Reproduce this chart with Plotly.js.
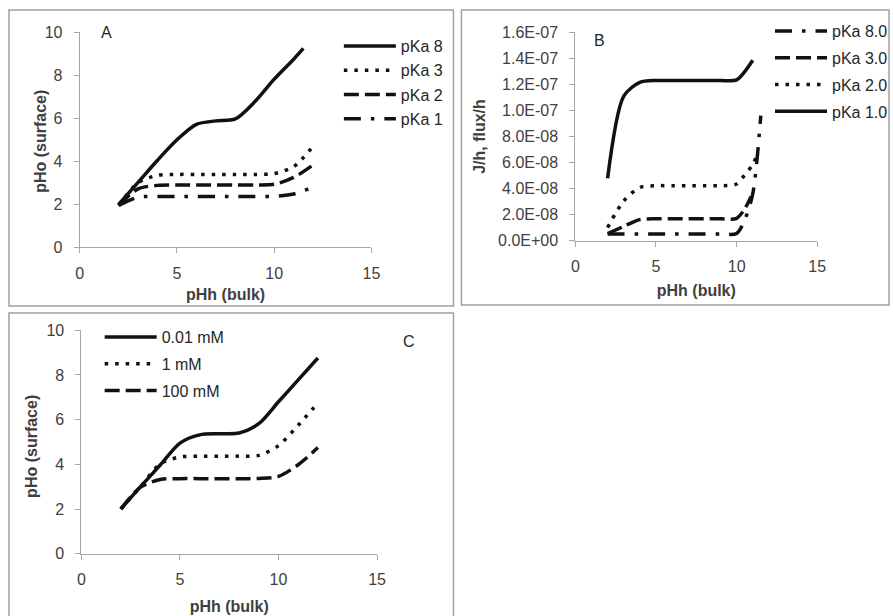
<!DOCTYPE html>
<html>
<head>
<meta charset="utf-8">
<script src="https://cdn.plot.ly/plotly-3.0.1.min.js"></script>
<style>
html,body{margin:0;padding:0;background:#fff;}
#chart{width:893px;height:616px;}
</style>
</head>
<body>
<div id="chart"></div>
<script>
// ---------- Panel A data ----------
const aNames = ["pKa 8", "pKa 3", "pKa 2", "pKa 1"];
const aX_pKa8 = [2, 3, 4, 5, 6, 7, 8, 9, 10, 11, 11.5];
const aY_pKa8 = [2.0, 3.02, 4.05, 5.0, 5.72, 5.88, 5.97, 6.77, 7.82, 8.75, 9.25];
const aX_pKa3 = [2, 3, 4, 5, 6, 7, 8, 9, 10, 11, 12];
const aY_pKa3 = [1.95, 3.0, 3.35, 3.39, 3.39, 3.39, 3.39, 3.39, 3.43, 3.75, 4.7];
const aX_pKa2 = [2, 3, 4, 5, 6, 7, 8, 9, 10, 11, 12];
const aY_pKa2 = [1.95, 2.72, 2.88, 2.9, 2.9, 2.9, 2.9, 2.9, 2.93, 3.25, 3.83];
const aX_pKa1 = [2, 3, 4, 5, 6, 7, 8, 9, 10, 11, 12];
const aY_pKa1 = [1.95, 2.33, 2.36, 2.36, 2.36, 2.36, 2.36, 2.36, 2.37, 2.48, 2.8];

// ---------- Panel B data ----------
const bNames = ["pKa 8.0", "pKa 3.0", "pKa 2.0", "pKa 1.0"];
const bX_pKa80 = [2, 3, 4, 5, 6, 7, 8, 9, 10, 10.5, 11, 11.5];
const bY_pKa80 = [5.2e-9, 5.2e-9, 5.2e-9, 5.2e-9, 5.2e-9, 5.2e-9, 5.2e-9, 5.2e-9, 5.6e-9, 1.6e-8, 3.6e-8, 9.6e-8];
const bX_pKa30 = [2, 3, 4, 5, 6, 7, 8, 9, 10, 10.5, 10.9];
const bY_pKa30 = [5.5e-9, 1.1e-8, 1.62e-8, 1.68e-8, 1.68e-8, 1.68e-8, 1.68e-8, 1.68e-8, 1.72e-8, 2.45e-8, 3.4e-8];
const bX_pKa20 = [2, 3, 4, 5, 6, 7, 8, 9, 10, 10.5, 11, 11.3];
const bY_pKa20 = [1.0e-8, 3.05e-8, 4.08e-8, 4.22e-8, 4.22e-8, 4.22e-8, 4.22e-8, 4.22e-8, 4.35e-8, 5.05e-8, 5.85e-8, 6.7e-8];
const bX_pKa10 = [2, 3, 4, 5, 6, 7, 8, 9, 10, 11];
const bY_pKa10 = [4.8e-8, 1.11e-7, 1.215e-7, 1.23e-7, 1.23e-7, 1.23e-7, 1.23e-7, 1.23e-7, 1.235e-7, 1.385e-7];
const bTickVals = [0, 2e-8, 4e-8, 6e-8, 8e-8, 1e-7, 1.2e-7, 1.4e-7, 1.6e-7];
const bTickText = ["0.0E+00", "2.0E-08", "4.0E-08", "6.0E-08", "8.0E-08", "1.0E-07", "1.2E-07", "1.4E-07", "1.6E-07"];

// ---------- Panel C data ----------
const cNames = ["0.01 mM", "1 mM", "100 mM"];
const cX = [2, 3, 4, 5, 6, 7, 8, 9, 10, 11, 12];
const cY_001 = [2.0, 3.0, 3.97, 4.95, 5.32, 5.37, 5.4, 5.82, 6.8, 7.78, 8.76];
const cY_1 = [2.0, 3.0, 4.02, 4.33, 4.36, 4.36, 4.37, 4.4, 4.84, 5.75, 6.75];
const cY_100 = [2.0, 2.98, 3.32, 3.36, 3.36, 3.36, 3.36, 3.37, 3.46, 3.98, 4.75];

// ---------- styling ----------
const W = 893, H = 616;
const FONT = "Liberation Sans, Arial, sans-serif";
const TXT = "#262626", TICK = "#404040", AXC = "#a6a6a6";
const LW = 3.5;
const DOT = "3.5px,7px", DASH = "15px,6px", DASHDOT = "17px,10px,3.5px,10px";
const px = v => v / W, py = v => 1 - v / H;

function ln(x, y, name, dash, xa, ya, leg) {
  return {x: x, y: y, name: name, type: "scatter", mode: "lines", xaxis: xa, yaxis: ya, legend: leg,
    legendgroup: leg + name,
    line: {color: "#111", width: LW, dash: dash, shape: "spline", smoothing: 0.8}, hoverinfo: "skip"};
}

const traces = [
  ln(aX_pKa8, aY_pKa8, aNames[0], "solid", "x", "y", "legend"),
  ln(aX_pKa3, aY_pKa3, aNames[1], DOT, "x", "y", "legend"),
  ln(aX_pKa2, aY_pKa2, aNames[2], DASH, "x", "y", "legend"),
  ln(aX_pKa1, aY_pKa1, aNames[3], DASHDOT, "x", "y", "legend"),
  ln(bX_pKa80, bY_pKa80, bNames[0], DASHDOT, "x2", "y2", "legend2"),
  ln(bX_pKa30, bY_pKa30, bNames[1], DASH, "x2", "y2", "legend2"),
  ln(bX_pKa20, bY_pKa20, bNames[2], DOT, "x2", "y2", "legend2"),
  ln(bX_pKa10, bY_pKa10, bNames[3], "solid", "x2", "y2", "legend2"),
  ln(cX, cY_001, cNames[0], "solid", "x3", "y3", "legend3"),
  ln(cX, cY_1, cNames[1], DOT, "x3", "y3", "legend3"),
  ln(cX, cY_100, cNames[2], DASH, "x3", "y3", "legend3")
];

function xax(dom, anchor, standoff) {
  return {domain: dom, anchor: anchor, range: [0, 15], dtick: 5, tick0: 0, showgrid: false, zeroline: false,
    showline: true, linecolor: AXC, linewidth: 1, ticks: "outside", ticklen: 5, tickcolor: AXC, tickwidth: 1,
    tickfont: {family: FONT, size: 16, color: TICK}, ticklabelstandoff: 6,
    title: {text: "pHh (bulk)", font: {family: FONT, size: 16, color: TICK, weight: "bold"}, standoff: standoff},
    fixedrange: true};
}
function yax(dom, anchor) {
  return {domain: dom, anchor: anchor, range: [0, 10], dtick: 2, tick0: 0, showgrid: false, zeroline: false,
    showline: true, linecolor: AXC, linewidth: 1, ticks: "outside", ticklen: 5, tickcolor: AXC, tickwidth: 1,
    tickfont: {family: FONT, size: 16, color: TICK}, ticklabelstandoff: 8,
    fixedrange: true};
}

const yB = yax([py(240.7), py(32.3)], "x2");
yB.title = {text: "J/h, flux/h", font: {family: FONT, size: 16, color: TICK, weight: "bold"}, standoff: 8};
yB.range = [0, 1.6e-7];
yB.tickmode = "array"; yB.tickvals = bTickVals; yB.ticktext = bTickText;
delete yB.dtick; delete yB.tick0;

function leg(x, y, gap) {
  return {x: px(x), y: py(y), xanchor: "left", yanchor: "top", bgcolor: "rgba(0,0,0,0)", borderwidth: 0,
    itemwidth: 52, traceorder: "grouped", tracegroupgap: gap, font: {family: FONT, size: 16, color: TXT},
    itemclick: false, itemdoubleclick: false};
}

function frame(x0, y0, x1, y1) {
  return {type: "rect", xref: "paper", yref: "paper", x0: px(x0), x1: px(x1), y0: py(y0), y1: py(y1),
    line: {color: "#a0a0a0", width: 1.5}, fillcolor: "rgba(0,0,0,0)", layer: "below"};
}
function lab(t, x, y) {
  return {text: t, xref: "paper", yref: "paper", x: px(x), y: py(y), showarrow: false,
    xanchor: "center", yanchor: "middle", font: {family: FONT, size: 16, color: TXT}};
}
function ytitle(t, x, y) {
  return {text: "<b>" + t + "</b>", xref: "paper", yref: "paper", x: px(x), y: py(y), showarrow: false,
    textangle: -90, xanchor: "center", yanchor: "middle", font: {family: FONT, size: 16, color: TICK}};
}

const layout = {
  width: W, height: H, margin: {l: 0, r: 0, t: 0, b: 0},
  paper_bgcolor: "#fff", plot_bgcolor: "rgba(0,0,0,0)", showlegend: true,
  xaxis: xax([px(80), px(372.7)], "y", 8),
  yaxis: yax([py(247.3), py(32.3)], "x"),
  xaxis2: xax([px(577.3), px(820)], "y2", 10),
  yaxis2: yB,
  xaxis3: xax([px(81.7), px(378.3)], "y3", 13),
  yaxis3: yax([py(553.7), py(330.3)], "x3"),
  legend: leg(340, 29, 0.5),
  legend2: leg(773, 14, 3),
  legend3: leg(100, 320, 3),
  shapes: [frame(9, 10, 455, 306), frame(463, 10, 892, 305), frame(9, 313, 455, 620)],
  annotations: [lab("A", 107, 32), lab("B", 602, 40), lab("C", 410, 341),
    ytitle("pHo (surface)", 40, 141), ytitle("pHo (surface)", 31, 446)]
};

Plotly.newPlot("chart", traces, layout, {staticPlot: true, displayModeBar: false});
</script>
</body>
</html>
